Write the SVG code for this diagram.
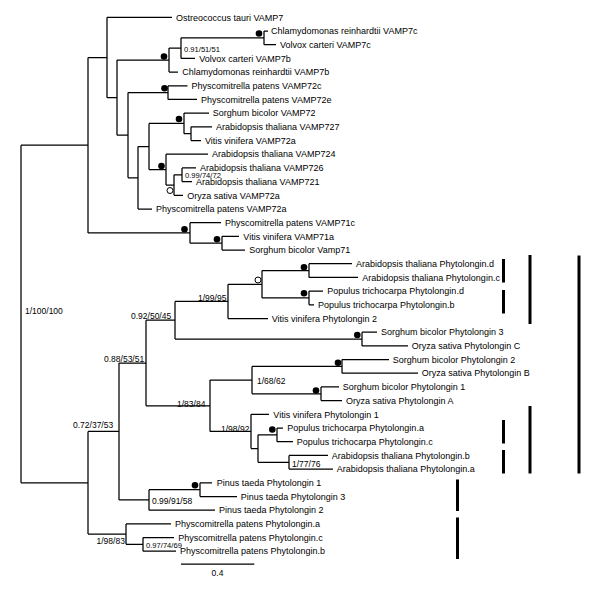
<svg xmlns="http://www.w3.org/2000/svg" width="600" height="593" viewBox="0 0 600 593">
<style>
.br{fill:none;stroke:#000;stroke-width:1.25}
.bar{fill:none;stroke:#000;stroke-width:3}
.tip{font-family:"Liberation Sans",Arial,sans-serif;font-size:9px;fill:#000}
.sup{font-family:"Liberation Sans",Arial,sans-serif;font-size:8.5px;fill:#000}
.sup2{font-family:"Liberation Sans",Arial,sans-serif;font-size:7.6px;fill:#000}
.fb{fill:#000}
.ob{fill:#fff;stroke:#000;stroke-width:1}
</style>
<rect width="600" height="593" fill="#fff"/>
<g id="connectors">
<path class="br" d="M21 145.2V482.8
M21 145.2H88M88 57.5V232.9
M88 57.5H107M107 17.3V97.65M107 17.3H172
M107 97.65H117M117 60.1V135.2
M117 60.1H169M169 48.1V72.1
M169 48.1H181M181 37.85V58.4
M181 37.85H264M264 31V44.7M264 31H268M264 44.7H276
M181 58.4H195M169 72.1H178
M117 135.2H128M128 92.6V177.75
M128 92.6H168M168 85.8V99.4M168 85.8H187.5M168 99.4H197
M128 177.75H138M138 146.5V209M138 209H152
M138 146.5H149M149 123.4V169.6
M149 123.4H184M184 113.1V133.65M184 113.1H209
M184 133.65H191M191 126.8V140.5M191 126.8H212M191 140.5H201
M149 169.6H166M166 154.2V185M166 154.2H208
M166 185H174M174 174.75V195.3M174 195.3H183
M174 174.75H182M182 167.9V181.6M182 167.9H196M182 181.6H192
M88 232.9H190M190 222.7V243.15M190 222.7H221
M190 243.15H222M222 236.3V250M222 236.3H239M222 250H245"/>
<path class="br" d="M21 482.8H88M88 431.45V534.1
M88 431.45H119M119 363V499.9
M119 363H146M146 320.2V405.75
M146 320.2H175M175 301.4V339.05
M175 301.4H228M228 284.25V318.5M228 318.5H268
M228 284.25H262M262 270.55V297.95
M262 270.55H309M309 263.7V277.4M309 263.7H352M309 277.4H358
M262 297.95H309M309 291.1V304.8M309 291.1H323M309 304.8H314
M175 339.05H362M362 332.2V345.9M362 332.2H377M362 345.9H408
M146 405.75H210M210 380.1V431.4
M210 380.1H252M252 366.4V393.75
M252 366.4H342M342 359.6V373.2M342 359.6H389M342 373.2H418
M252 393.75H321M321 386.9V400.6M321 386.9H339M321 400.6H342
M210 431.4H251M251 414.3V448.55M251 414.3H269
M251 448.55H258M258 434.85V462.25
M258 434.85H277M277 428V441.7M277 428H283M277 441.7H293
M258 462.25H289M289 455.4V469.1M289 455.4H328M289 469.1H333
M119 499.9H149M149 489.65V510.2M149 510.2H215
M149 489.65H200M200 482.8V496.5M200 482.8H212M200 496.5H237
M88 534.1H126M126 523.9V544.35M126 523.9H171
M126 544.35H143M143 537.5V551.2M143 537.5H174M143 551.2H176"/>
</g>
<g id="support-markers">
<circle class="fb" cx="164" cy="56.5" r="3.3"/>
<circle class="fb" cx="259" cy="33.5" r="3.3"/>
<circle class="fb" cx="164.5" cy="88.3" r="3.3"/>
<circle class="fb" cx="179" cy="119" r="3.3"/>
<circle class="fb" cx="161.5" cy="166" r="3.3"/>
<circle class="ob" cx="170" cy="190.5" r="3"/>
<circle class="fb" cx="184.5" cy="229.3" r="3.3"/>
<circle class="fb" cx="217" cy="239.3" r="3.3"/>
<circle class="ob" cx="258" cy="280" r="3"/>
<circle class="fb" cx="304" cy="267.3" r="3.3"/>
<circle class="fb" cx="304" cy="293.3" r="3.3"/>
<circle class="fb" cx="357.3" cy="335" r="3.3"/>
<circle class="fb" cx="338" cy="362.7" r="3.3"/>
<circle class="fb" cx="316" cy="390.5" r="3.3"/>
<circle class="fb" cx="272.3" cy="429.5" r="3.3"/>
<circle class="fb" cx="195" cy="485.2" r="3.3"/>
</g>
<g id="support-values">
<text class="sup" x="25" y="314">1/100/100</text>
<text class="sup2" x="184" y="51.5">0.91/51/51</text>
<text class="sup2" x="185" y="177.8">0.99/74/72</text>
<text class="sup" x="131" y="318.8">0.92/50/45</text>
<text class="sup" x="198" y="300.5">1/99/95</text>
<text class="sup" x="104" y="362.3">0.88/53/51</text>
<text class="sup" x="257" y="383.5">1/68/62</text>
<text class="sup" x="177" y="406.5">1/83/84</text>
<text class="sup" x="73" y="428">0.72/37/53</text>
<text class="sup" x="221" y="431.5">1/98/92</text>
<text class="sup" x="292" y="466.5">1/77/76</text>
<text class="sup" x="152" y="504">0.99/91/58</text>
<text class="sup" x="96.5" y="544">1/98/83</text>
<text class="sup2" x="146" y="548">0.97/74/69</text>
</g>
<g id="t1"><text class="tip" x="176" y="20.5">Ostreococcus tauri VAMP7</text></g>
<g id="t2"><text class="tip" x="271" y="34.2">Chlamydomonas reinhardtii VAMP7c</text></g>
<g id="t3"><text class="tip" x="280" y="47.9">Volvox carteri VAMP7c</text></g>
<g id="t4"><text class="tip" x="199.3" y="61.6">Volvox carteri VAMP7b</text></g>
<g id="t5"><text class="tip" x="182.3" y="75.3">Chlamydomonas reinhardtii VAMP7b</text></g>
<g id="t6"><text class="tip" x="191.5" y="89">Physcomitrella patens VAMP72c</text></g>
<g id="t7"><text class="tip" x="201" y="102.6">Physcomitrella patens VAMP72e</text></g>
<g id="t8"><text class="tip" x="212.7" y="116.3">Sorghum bicolor VAMP72</text></g>
<g id="t9"><text class="tip" x="216" y="130">Arabidopsis thaliana VAMP727</text></g>
<g id="t10"><text class="tip" x="205" y="143.7">Vitis vinifera VAMP72a</text></g>
<g id="t11"><text class="tip" x="212" y="157.4">Arabidopsis thaliana VAMP724</text></g>
<g id="t12"><text class="tip" x="200" y="171.1">Arabidopsis thaliana VAMP726</text></g>
<g id="t13"><text class="tip" x="196" y="184.8">Arabidopsis thaliana VAMP721</text></g>
<g id="t14"><text class="tip" x="187.3" y="198.5">Oryza sativa VAMP72a</text></g>
<g id="t15"><text class="tip" x="156" y="212.2">Physcomitrella patens VAMP72a</text></g>
<g id="t16"><text class="tip" x="225" y="225.9">Physcomitrella patens VAMP71c</text></g>
<g id="t17"><text class="tip" x="243.3" y="239.5">Vitis vinifera VAMP71a</text></g>
<g id="t18"><text class="tip" x="249.3" y="253.2">Sorghum bicolor Vamp71</text></g>
<g id="t19"><text class="tip" x="356" y="266.9">Arabidopsis thaliana Phytolongin.d</text></g>
<g id="t20"><text class="tip" x="362.3" y="280.6">Arabidopsis thaliana Phytolongin.c</text></g>
<g id="t21"><text class="tip" x="327.3" y="294.3">Populus trichocarpa Phytolongin.d</text></g>
<g id="t22"><text class="tip" x="318" y="308">Populus trichocarpa Phytolongin.b</text></g>
<g id="t23"><text class="tip" x="271.7" y="321.7">Vitis vinifera Phytolongin 2</text></g>
<g id="t24"><text class="tip" x="381" y="335.4">Sorghum bicolor Phytolongin 3</text></g>
<g id="t25"><text class="tip" x="411.7" y="349.1">Oryza sativa Phytolongin C</text></g>
<g id="t26"><text class="tip" x="392.7" y="362.8">Sorghum bicolor Phytolongin 2</text></g>
<g id="t27"><text class="tip" x="421.7" y="376.4">Oryza sativa Phytolongin B</text></g>
<g id="t28"><text class="tip" x="342.7" y="390.1">Sorghum bicolor Phytolongin 1</text></g>
<g id="t29"><text class="tip" x="346" y="403.8">Oryza sativa Phytolongin A</text></g>
<g id="t30"><text class="tip" x="273.3" y="417.5">Vitis vinifera Phytolongin 1</text></g>
<g id="t31"><text class="tip" x="287.3" y="431.2">Populus trichocarpa Phytolongin.a</text></g>
<g id="t32"><text class="tip" x="296.7" y="444.9">Populus trichocarpa Phytolongin.c</text></g>
<g id="t33"><text class="tip" x="331.7" y="458.6">Arabidopsis thaliana Phytolongin.b</text></g>
<g id="t34"><text class="tip" x="336.7" y="472.3">Arabidopsis thaliana Phytolongin.a</text></g>
<g id="t35"><text class="tip" x="216.7" y="486">Pinus taeda Phytolongin 1</text></g>
<g id="t36"><text class="tip" x="240.7" y="499.7">Pinus taeda Phytolongin 3</text></g>
<g id="t37"><text class="tip" x="219" y="513.4">Pinus taeda Phytolongin 2</text></g>
<g id="t38"><text class="tip" x="175" y="527.1">Physcomitrella patens Phytolongin.a</text></g>
<g id="t39"><text class="tip" x="178.3" y="540.7">Physcomitrella patens Phytolongin.c</text></g>
<g id="t40"><text class="tip" x="180" y="554.4">Physcomitrella patens Phytolongin.b</text></g>
<g id="scale-bar">
<path class="br" d="M181 564H254.3"/>
<text class="sup" x="217.5" y="575.5" text-anchor="middle">0.4</text>
</g>
<g id="group-bars">
<path class="bar" d="M503.5 259V282.5M503.5 290V313.5M503.5 420V443.5M503.5 450V473.5"/>
<path class="bar" d="M530 255V324M530 406V473.5"/>
<path class="bar" d="M579 255.5V473.5"/>
<path class="bar" d="M457.5 479.5V511M457.5 517.5V559"/>
</g>
</svg>
